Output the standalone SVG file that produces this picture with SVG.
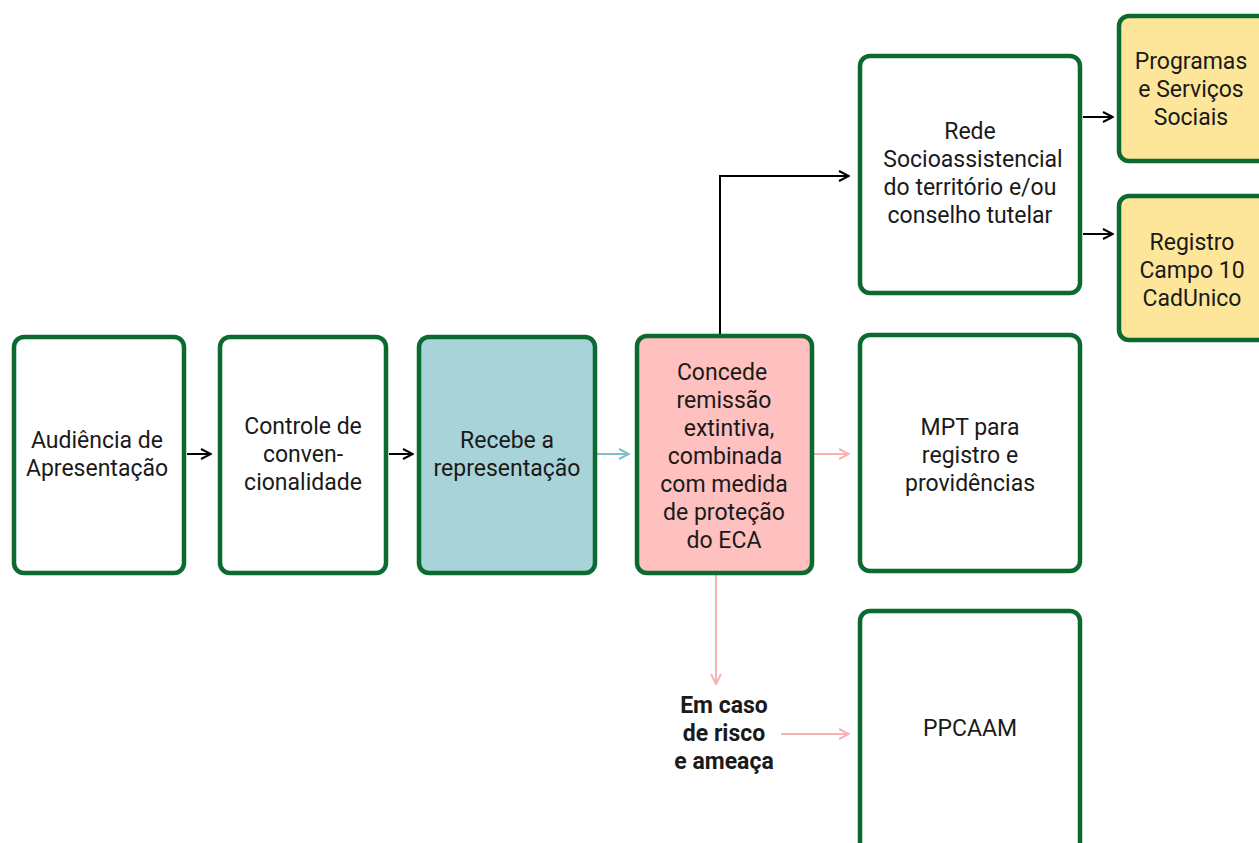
<svg xmlns="http://www.w3.org/2000/svg" width="1259" height="843" viewBox="0 0 1259 843">
  <defs>
    <style>
      .box { stroke: #0b6a2f; stroke-width: 4.5; }
      .white { fill: #ffffff; }
      .teal { fill: #a8d3d8; }
      .pink { fill: #ffc0c0; }
      .yellow { fill: #fde69a; }
      text { font-family: Roboto, "Liberation Sans", sans-serif; font-size: 23px; fill: #1a1a1a; text-anchor: middle; }
      .bold { font-weight: bold; }
      .c-black { stroke: #000000; stroke-width: 2; fill: none; }
      .c-teal { stroke: #7dbfcb; stroke-width: 2; fill: none; }
      .c-pink { stroke: #f9b2b2; stroke-width: 2; fill: none; }
    </style>
    <marker id="ah-black" viewBox="0 0 12 12" refX="11" refY="6" markerWidth="12" markerHeight="12" markerUnits="userSpaceOnUse" orient="auto">
      <path d="M1,1 L11,6 L1,11" fill="none" stroke="#000000" stroke-width="2"/>
    </marker>
    <marker id="ah-teal" viewBox="0 0 12 12" refX="11" refY="6" markerWidth="12" markerHeight="12" markerUnits="userSpaceOnUse" orient="auto">
      <path d="M1,1 L11,6 L1,11" fill="none" stroke="#7dbfcb" stroke-width="2"/>
    </marker>
    <marker id="ah-pink" viewBox="0 0 12 12" refX="11" refY="6" markerWidth="12" markerHeight="12" markerUnits="userSpaceOnUse" orient="auto">
      <path d="M1,1 L11,6 L1,11" fill="none" stroke="#f9b2b2" stroke-width="2"/>
    </marker>
  </defs>

  <rect width="1259" height="843" fill="#ffffff"/>

  <!-- connectors -->
  <g id="connectors">
    <path class="c-black" d="M187,454 H211" marker-end="url(#ah-black)"/>
    <path class="c-black" d="M389,454 H413" marker-end="url(#ah-black)"/>
    <path class="c-teal" d="M597,454 H629" marker-end="url(#ah-teal)"/>
    <path class="c-pink" d="M814,454 H849" marker-end="url(#ah-pink)"/>
    <path class="c-black" d="M720,334 V176 H849" marker-end="url(#ah-black)"/>
    <path class="c-black" d="M1083,117 H1113" marker-end="url(#ah-black)"/>
    <path class="c-black" d="M1083,234 H1113" marker-end="url(#ah-black)"/>
    <path class="c-pink" d="M716,574 V684" marker-end="url(#ah-pink)"/>
    <path class="c-pink" d="M781,734 H849" marker-end="url(#ah-pink)"/>
  </g>

  <g id="audiencia">
    <rect class="box white" x="14" y="337" width="170" height="236" rx="10"/>
    <text x="97" y="448">Audiência de</text>
    <text x="97" y="476">Apresentação</text>
  </g>

  <g id="controle">
    <rect class="box white" x="220" y="337" width="166" height="236" rx="10"/>
    <text x="303" y="434">Controle de</text>
    <text x="303" y="462">conven-</text>
    <text x="303" y="490">cionalidade</text>
  </g>

  <g id="recebe">
    <rect class="box teal" x="419" y="337" width="176" height="236" rx="10"/>
    <text x="507" y="448">Recebe a</text>
    <text x="507" y="476">representação</text>
  </g>

  <g id="concede">
    <rect class="box pink" x="637" y="336" width="175" height="237" rx="10"/>
    <text x="722" y="380">Concede</text>
    <text x="724" y="408">remissão</text>
    <text x="729" y="436">extintiva,</text>
    <text x="725" y="464">combinada</text>
    <text x="724" y="492">com medida</text>
    <text x="724" y="520">de proteção</text>
    <text x="724" y="548">do ECA</text>
  </g>

  <g id="rede">
    <rect class="box white" x="860" y="56" width="220" height="237" rx="10"/>
    <text x="970" y="139">Rede</text>
    <text x="973" y="167">Socioassistencial</text>
    <text x="970" y="195">do território e/ou</text>
    <text x="970" y="223">conselho tutelar</text>
  </g>

  <g id="mpt">
    <rect class="box white" x="860" y="335" width="220" height="236" rx="10"/>
    <text x="970" y="435">MPT para</text>
    <text x="970" y="463">registro e</text>
    <text x="970" y="491">providências</text>
  </g>

  <g id="ppcaam">
    <rect class="box white" x="860" y="611" width="220" height="250" rx="10"/>
    <text x="970" y="736">PPCAAM</text>
  </g>

  <g id="programas">
    <rect class="box yellow" x="1119" y="16" width="160" height="145" rx="10"/>
    <text x="1191" y="69">Programas</text>
    <text x="1191" y="97">e Serviços</text>
    <text x="1191" y="125">Sociais</text>
  </g>

  <g id="registro">
    <rect class="box yellow" x="1119" y="196" width="160" height="144" rx="10"/>
    <text x="1192" y="250">Registro</text>
    <text x="1192" y="278">Campo 10</text>
    <text x="1192" y="306">CadUnico</text>
  </g>

  <g id="risco">
    <text class="bold" x="724" y="713">Em caso</text>
    <text class="bold" x="724" y="741">de risco</text>
    <text class="bold" x="724" y="769">e ameaça</text>
  </g>
</svg>
